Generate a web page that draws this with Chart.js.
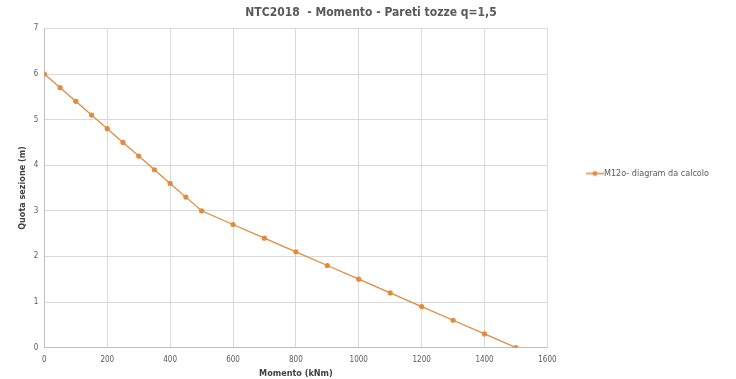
<!DOCTYPE html>
<html><head><meta charset="utf-8">
<script src="https://cdn.jsdelivr.net/npm/chart.js@4.4.1/dist/chart.umd.min.js"></script>
<style>html,body{margin:0;padding:0;background:#fff}#wrap{width:736px;height:379px}</style>
</head><body><div id="wrap"><canvas id="c" width="736" height="379"></canvas></div>
<script>
const momento = [0,50,100,150,200,250,300,350,400,450,500,600,700,800,900,1000,1100,1200,1300,1400,1500];
const quota   = [6,5.7,5.4,5.1,4.8,4.5,4.2,3.9,3.6,3.3,3.0,2.7,2.4,2.1,1.8,1.5,1.2,0.9,0.6,0.3,0];
const seriesName = 'M12o- diagram da calcolo';
const titleText = 'NTC2018  - Momento - Pareti tozze q=1,5';
const xTitle = 'Momento (kNm)';
const yTitle = 'Quota sezione (m)';
const xTicks = [0,200,400,600,800,1000,1200,1400,1600];
const yTicks = [0,1,2,3,4,5,6,7];

const col = '#E38A3F';
const ls = document.createElement('canvas');
ls.width = 18; ls.height = 8;
const g = ls.getContext('2d');
g.strokeStyle = col; g.lineWidth = 1.5;
g.beginPath(); g.moveTo(0,4); g.lineTo(18,4); g.stroke();
g.fillStyle = col; g.beginPath(); g.arc(9,4,2.4,0,Math.PI*2); g.fill();

const FONT = "'Liberation Sans Narrow','DejaVu Sans Condensed',sans-serif";
new Chart(document.getElementById('c'), {
  type: 'scatter',
  data: { datasets: [{
    label: seriesName,
    data: momento.map((m,i)=>({x:m,y:quota[i]})),
    showLine: true,
    borderColor: col, backgroundColor: col,
    borderWidth: 1.3, pointRadius: 2.6, pointBorderWidth: 0, pointHoverRadius: 2.6
  }]},
  options: {
    responsive: false, animation: false,
    layout: { padding: { left: 23, right: 17, top: 2, bottom: 0 } },
    plugins: {
      title: { display: true, text: titleText, color: '#595959',
        font: { family: FONT, size: 12, weight: 'bold' }, padding: { top: 4, bottom: 8 } },
      legend: { position: 'right', align: 'start',
        title: { display: true, text: ' ', font: { size: 10 }, padding: { top: 112, bottom: 0 } },
        labels: { usePointStyle: true, padding: 43, color: '#595959', font: { family: FONT, size: 9 },
          generateLabels: (ch) => ch.data.datasets.map((d,i)=>({
            text: d.label, pointStyle: ls, fillStyle: col, strokeStyle: col, lineWidth: 0,
            datasetIndex: i, fontColor: '#595959'
          })) } },
      tooltip: { enabled: false }
    },
    scales: {
      x: { type: 'linear', min: 0, max: 1600,
        afterBuildTicks: s => { s.ticks = xTicks.map(v=>({value:v})); },
        grid: { color: '#D9D9D9', drawTicks: false },
        border: { color: '#BFBFBF' },
        ticks: { color: '#595959', font: { family: FONT, size: 8 }, padding: 8, callback: v => String(v) },
        title: { display: true, text: xTitle, color: '#404040', font: { family: FONT, size: 9, weight: 'bold' }, padding: { top: -5, bottom: 0 } } },
      y: { type: 'linear', min: 0, max: 7,
        afterBuildTicks: s => { s.ticks = yTicks.map(v=>({value:v})); },
        grid: { color: '#D9D9D9', drawTicks: false },
        border: { color: '#BFBFBF' },
        ticks: { color: '#595959', font: { family: FONT, size: 8 }, padding: 6, callback: v => String(v) },
        title: { display: true, text: yTitle, color: '#404040', font: { family: FONT, size: 9, weight: 'bold' }, padding: { top: -6, bottom: 0 } } }
    }
  }
});
</script></body></html>
